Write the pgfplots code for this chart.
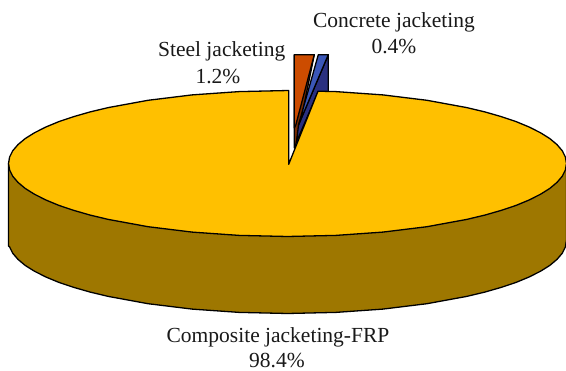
\documentclass[border=0pt]{standalone}
\usepackage{fontspec}
\setmainfont{Liberation Serif}
\usepackage{pgfplots}
\pgfplotsset{compat=1.18}
\definecolor{frptop}{HTML}{FFC000}
\definecolor{frpside}{HTML}{9E7700}
\definecolor{steeltop}{HTML}{CC4C00}
\definecolor{steelside}{HTML}{7A2C00}
\definecolor{conctop}{HTML}{3B57B8}
\definecolor{concside}{HTML}{2A3080}
\tikzset{pielabel/.style={anchor=base, inner sep=0pt, font=\fontsize{21.5}{24}\selectfont, text=black!90}}
\begin{document}
\begin{tikzpicture}
\begin{axis}[
  at={(0,0)}, anchor=south west,
  scale only axis, width=566pt, height=371pt,
  xmin=0, xmax=566, ymin=0, ymax=371, y dir=reverse,
  hide axis, clip=false,
  every axis plot/.append style={draw=black, line width=1.3pt, line join=round, mark=none},
]
% Steel jacketing wedge, lifted out of the pie
\addplot[fill=steelside] coordinates {
  (294.3,54.7) (314.3,54.7) (299,130) (295,148) (294.3,148)
} --cycle;
\addplot[fill=steeltop] coordinates {
  (294.3,54.7) (314.3,54.7) (295.8,125) (294.3,128)
} --cycle;
% Concrete jacketing wedge
\addplot[fill=concside] coordinates {
  (328.3,54.7) (328.3,92) (318,92) (296.5,142) (298.5,125)
} --cycle;
\addplot[fill=conctop] coordinates {
  (318.3,54.7) (328.3,54.7) (298.5,125)
} --cycle;
% Composite jacketing: front wall of the disc
\addplot[fill=frpside] coordinates {
  (8.5,163.5) (8.5,246) (9.6,246.9) (12.7,253.2) (18,259.4) (25.3,265.5) (34.6,271.3)
  (45.9,277) (58.9,282.4) (73.8,287.4) (90.2,292.1) (108.2,296.4) (148,303.7)
  (192.1,309.1) (239.1,312.4) (287.5,313.5) (335.9,312.4) (382.9,309.1) (427,303.7)
  (466.8,296.4) (484.8,292.1) (501.2,287.4) (516.1,282.4) (529.1,277) (540.4,271.3)
  (549.7,265.5) (557,259.4) (562.3,253.2) (565.4,246.9) (566.5,240) (566.5,163.5)
} --cycle;
% Composite jacketing: top face, open where the two wedges were taken out
\addplot[fill=frptop] coordinates {
  (288.7,164.3) (288.7,90.5) (239.1,91.6) (192.1,94.9) (148,100.3) (108.2,107.6)
  (90.2,111.9) (73.8,116.6) (58.9,121.6) (45.9,127) (34.6,132.7) (25.3,138.5)
  (18,144.6) (12.7,150.8) (9.6,157.1) (8.5,163.5) (9.6,169.9) (12.7,176.2) (18,182.4)
  (25.3,188.5) (34.6,194.3) (45.9,200) (58.9,205.4) (73.8,210.4) (90.2,215.1)
  (108.2,219.4) (148,226.7) (192.1,232.1) (239.1,235.4) (287.5,236.5) (335.9,235.4)
  (382.9,232.1) (427,226.7) (466.8,219.4) (484.8,215.1) (501.2,210.4) (516.1,205.4)
  (529.1,200) (540.4,194.3) (549.7,188.5) (557,182.4) (562.3,176.2) (565.4,169.9)
  (566.5,163.5) (565.4,157.1) (562.3,150.8) (557,144.6) (549.7,138.5) (540.4,132.7)
  (529.1,127) (516.1,121.6) (501.2,116.6) (484.8,111.9) (466.8,107.6) (427,100.3)
  (382.9,94.9) (335.9,91.6) (318,91.2)
} --cycle;
% Category labels
\node[pielabel] at (axis cs:394,28) {Concrete jacketing};
\node[pielabel] at (axis cs:394,54) {0.4\%};
\node[pielabel] at (axis cs:221.7,56.7) {Steel jacketing};
\node[pielabel] at (axis cs:218,84) {1.2\%};
\node[pielabel] at (axis cs:278,342.7) {Composite jacketing-FRP};
\node[pielabel] at (axis cs:277,367.5) {98.4\%};
\end{axis}
\pgfresetboundingbox
\path[use as bounding box] (0,0) rectangle (566pt,371pt);
\end{tikzpicture}
\end{document}
